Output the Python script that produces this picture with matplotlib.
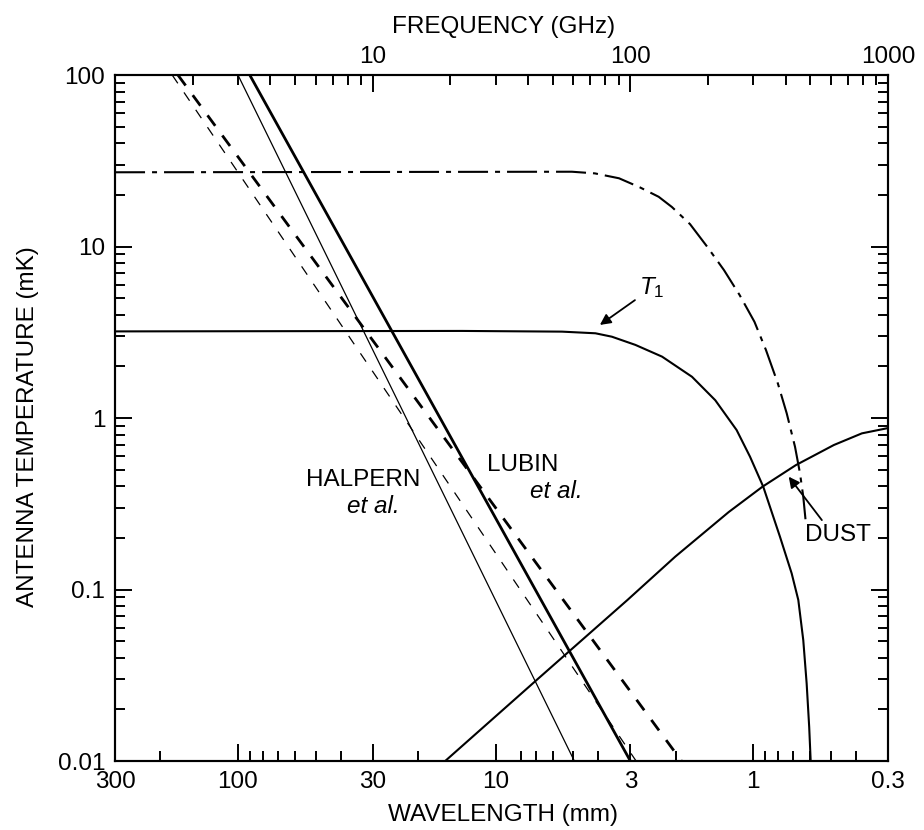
# temperatures d'antenne en fonction de la longueur d'onde
import numpy as np
import matplotlib.pyplot as plt
from matplotlib.ticker import FixedLocator, FixedFormatter, NullFormatter

plt.rcParams['font.family'] = ['Liberation Sans', 'DejaVu Sans']
plt.rcParams['mathtext.fontset'] = 'custom'
plt.rcParams['mathtext.it'] = 'Liberation Sans:italic'
plt.rcParams['mathtext.rm'] = 'Liberation Sans'
plt.rcParams['lines.scale_dashes'] = False

# droites (lambda en mm, T en mK) : points extremes
lam_sync_lubin = [90.0, 3.0]
T_sync_lubin = [100.0, 0.01]
lam_sync_halp = [100.0, 4.95]
T_sync_halp = [100.0, 0.01]
lam_ff_halp = [180.0, 2.85]
T_ff_halp = [100.0, 0.01]
lam_ff_lubin = [171.0, 1.9]
T_ff_lubin = [100.0, 0.01]

# courbe tiret-point
lam_dd = [300, 5.06, 4.12, 3.32, 2.75, 2.33, 2.07, 1.76, 1.51, 1.30, 1.13,
          0.99, 0.893, 0.803, 0.742, 0.689, 0.659, 0.640, 0.627]
T_dd = [27.1, 27.3, 26.7, 25.0, 22.1, 19.5, 17.0, 13.5, 9.97, 7.29, 5.21,
        3.64, 2.49, 1.59, 1.065, 0.680, 0.476, 0.348, 0.254]

# T1
lam_T1 = [300, 13.5, 5.53, 4.10, 3.54, 2.87, 2.26, 1.73, 1.405, 1.161, 1.030,
          0.915, 0.788, 0.710, 0.669, 0.640, 0.621, 0.607, 0.599]
T_T1 = [3.2, 3.22, 3.19, 3.12, 2.98, 2.67, 2.28, 1.74, 1.27, 0.851, 0.595,
        0.3975, 0.203, 0.1243, 0.0869, 0.0507, 0.0284, 0.0158, 0.01]

# poussiere
lam_dust = [15.7, 6.93, 3.08, 2.01, 1.246, 0.922, 0.683, 0.487, 0.379, 0.3]
T_dust = [0.01, 0.0297, 0.0869, 0.1554, 0.283, 0.3975, 0.532, 0.696, 0.814, 0.874]

# graduations
lam_major = [300, 100, 30, 10, 3, 1, 0.3]
lam_major_lab = ['300', '100', '30', '10', '3', '1', '0.3']
lam_minor = [200, 90, 80, 70, 60, 50, 40, 20, 8, 7, 6, 5, 4, 2,
             0.9, 0.8, 0.7, 0.6, 0.5, 0.4]
nu_major = [10, 100, 1000]
nu_minor = [2, 3, 4, 5, 6, 7, 8, 9, 20, 30, 40, 50, 60, 70, 80, 90,
            200, 300, 400, 500, 600, 700, 800, 900]
T_major = [0.01, 0.1, 1, 10, 100]
T_major_lab = ['0.01', '0.1', '1', '10', '100']
T_minor = [m * d for d in [0.01, 0.1, 1, 10] for m in range(2, 10)]

fs = 17.5
px = 72 / 100.  # points par pixel

fig = plt.figure(figsize=(9.24, 8.30), dpi=100)
ax = fig.add_axes([0.1245, 0.0831, 0.8366, 0.8265])
ax.set_xscale('log')
ax.set_yscale('log')
ax.set_xlim(300, 0.3)
ax.set_ylim(0.01, 100)

ax.plot(lam_sync_lubin, T_sync_lubin, 'k-', lw=2.0)
ax.plot(lam_sync_halp, T_sync_halp, 'k-', lw=0.9)
ax.plot(lam_ff_lubin, T_ff_lubin, 'k', lw=2.0, dashes=(13 * px, 12 * px))
ax.plot(lam_ff_halp, T_ff_halp, 'k', lw=0.9, dashes=(10 * px, 11 * px))
ax.plot(lam_dd, T_dd, 'k', lw=1.5, dashes=(30 * px, 7 * px, 5 * px, 7 * px))
ax.plot(lam_T1, T_T1, 'k-', lw=1.5)
ax.plot(lam_dust, T_dust, 'k-', lw=1.5)

# textes
ax.text(32.7, 0.435, 'HALPERN', fontsize=fs, ha='center', va='center')
ax.text(29.9, 0.304, 'et al.', fontsize=fs, style='italic', ha='center', va='center')
ax.text(7.83, 0.532, 'LUBIN', fontsize=fs, ha='center', va='center')
ax.text(5.83, 0.372, 'et al.', fontsize=fs, style='italic', ha='center', va='center')
ax.text(0.4695, 0.208, 'DUST', fontsize=fs, ha='center', va='center')
ax.text(2.47, 5.73, r'$T_1$', fontsize=fs, ha='center', va='center')

arr = dict(arrowstyle='-|>', color='k', lw=1.3, mutation_scale=16, shrinkA=0, shrinkB=0)
ax.annotate('', xy=(3.94, 3.49), xytext=(2.88, 4.87), arrowprops=arr)
ax.annotate('', xy=(0.729, 0.455), xytext=(0.542, 0.254), arrowprops=arr)

# axes
for s in ax.spines.values():
    s.set_linewidth(1.5)
ax.xaxis.set_major_locator(FixedLocator(lam_major))
ax.xaxis.set_major_formatter(FixedFormatter(lam_major_lab))
ax.xaxis.set_minor_locator(FixedLocator(lam_minor))
ax.xaxis.set_minor_formatter(NullFormatter())
ax.yaxis.set_major_locator(FixedLocator(T_major))
ax.yaxis.set_major_formatter(FixedFormatter(T_major_lab))
ax.yaxis.set_minor_locator(FixedLocator(T_minor))
ax.yaxis.set_minor_formatter(NullFormatter())
ax.tick_params(which='both', direction='in', width=1.4, labelsize=fs)
ax.tick_params(which='major', length=12.5)
ax.tick_params(which='minor', length=7.5)
ax.tick_params(axis='y', which='both', left=True, right=True, pad=7)
ax.tick_params(axis='x', which='both', top=False, pad=7)

ax2 = ax.twiny()
ax2.set_xscale('log')
ax2.set_xlim(ax.get_xlim())
ax2.xaxis.set_major_locator(FixedLocator([300. / n for n in nu_major]))
ax2.xaxis.set_major_formatter(FixedFormatter([str(n) for n in nu_major]))
ax2.xaxis.set_minor_locator(FixedLocator([300. / n for n in nu_minor]))
ax2.xaxis.set_minor_formatter(NullFormatter())
ax2.tick_params(which='both', direction='in', width=1.4, labelsize=fs, pad=5)
ax2.tick_params(which='major', length=12.5)
ax2.tick_params(which='minor', length=7.5)
for s in ax2.spines.values():
    s.set_linewidth(1.5)

ax.set_xlabel('WAVELENGTH (mm)', fontsize=fs)
ax.xaxis.set_label_coords(0.502, -0.062)
ax.set_ylabel('ANTENNA TEMPERATURE (mK)', fontsize=fs)
ax.yaxis.set_label_coords(-0.098, 0.487)
ax2.set_xlabel('FREQUENCY (GHz)', fontsize=fs)
ax2.xaxis.set_label_coords(0.502, 1.062)

fig.savefig('out.png', dpi=100)
